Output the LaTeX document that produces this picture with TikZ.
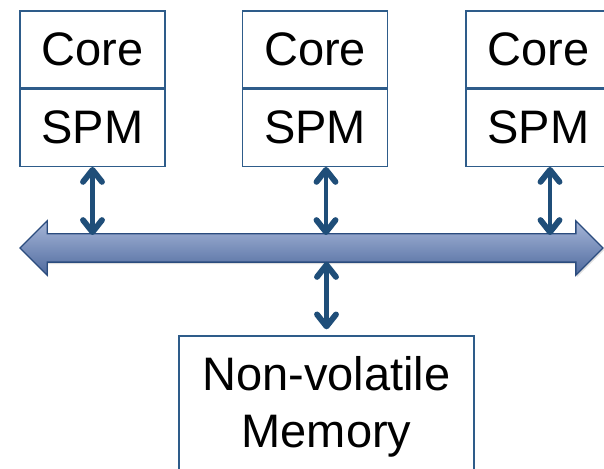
\documentclass[tikz,border=0pt]{standalone}
\usepackage{fontspec}
\setmainfont{Liberation Sans}
\usetikzlibrary{positioning,arrows.meta,shapes.arrows,shadows}
\definecolor{boxline}{HTML}{2E5C8A}
\definecolor{linkblue}{HTML}{1F4E79}
\definecolor{busline}{HTML}{2B4C7E}
\definecolor{bustop}{HTML}{A6B6D8}
\definecolor{busbot}{HTML}{4F6A9E}

\begin{document}
\begin{tikzpicture}[x=1pt,y=1pt,
    unit/.style={rectangle, draw=boxline, line width=1.3pt, fill=white,
      minimum width=145pt, minimum height=77pt, inner sep=0pt,
      font=\fontsize{47}{57}\selectfont},
    tip/.tip={Straight Barb[length=12pt,width=19pt,line width=0pt 1.3,round]},
    link/.style={linkblue, line width=4.5pt, line cap=round, tip-tip},
    bus/.style={double arrow, draw=busline, line width=1.3pt,
      top color=bustop, bottom color=busbot,
      minimum width=53pt, minimum height=583pt, inner xsep=0pt, inner ysep=13.5pt,
      double arrow head extend=13pt, double arrow tip angle=90,
      drop shadow={opacity=0.25, shadow xshift=1pt, shadow yshift=-2pt}}
    ]
    \useasboundingbox (0,0) rectangle (604,468);
    \clip (0,0) rectangle (604,468);
    \fill[white] (0,0) rectangle (604,468);
    % bus
    \node[bus] (B) at (311.5,220) {};
    \coordinate (Bt) at (311.5,233);
    \coordinate (Bb) at (311.5,206);
    % cores with their SPMs
    \node[unit] (C1) at (92.5,418.5) {Core};
    \node[unit, below = 0pt of C1] (S1) {SPM};
    \node[unit] (C2) at (315,418.5) {Core};
    \node[unit, below = 0pt of C2] (S2) {SPM};
    \node[unit] (C3) at (538.5,418.5) {Core};
    \node[unit, below = 0pt of C3] (S3) {SPM};
    % memory
    \node[unit, minimum width=295pt, minimum height=141pt, align=center]
      (M) at (326.5,61.5) {Non-volatile\\Memory};
    \draw[link] (S1.south) -- (S1.south |- Bt);
    \draw[link] ([xshift=11pt]S2.south) -- ([xshift=11pt]S2.south |- Bt);
    \draw[link] ([xshift=11.5pt]S3.south) -- ([xshift=11.5pt]S3.south |- Bt);
    \draw[link] (Bb -| M.north) -- ([yshift=6pt]M.north);
\end{tikzpicture}
\end{document}
